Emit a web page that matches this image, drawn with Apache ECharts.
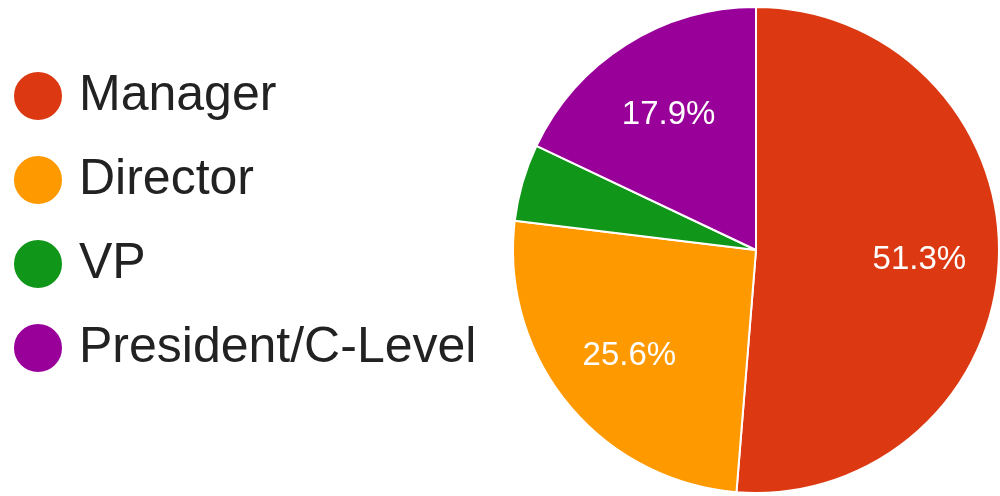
<!DOCTYPE html>
<html>
<head>
<meta charset="utf-8">
<style>
html,body{margin:0;padding:0;background:#fff;}
#c{width:1000px;height:496px;}
</style>
<script src="https://cdn.jsdelivr.net/npm/echarts@6/dist/echarts.min.js"></script>
</head>
<body>
<div id="c"></div>
<script>
const categories = ['Manager', 'Director', 'VP', 'President/C-Level'];
const counts = [20, 10, 2, 7];
const colors = ['#DC3912', '#FF9900', '#109618', '#990099'];
const showLabel = [true, true, false, true];

const chart = echarts.init(document.getElementById('c'), null, {renderer: 'canvas'});
const total = counts.reduce((a, b) => a + b, 0);
const mainData = categories.map((n, i) => ({name: n, value: counts[i], itemStyle: {color: colors[i]}}));
const labelData = categories.map((n, i) => ({
  name: n, value: counts[i],
  label: {show: showLabel[i]}
}));

chart.setOption({
  animation: false,
  backgroundColor: '#ffffff',
  legend: {
    orient: 'vertical',
    left: 7,
    top: 65,
    icon: 'circle',
    itemWidth: 50,
    itemHeight: 50,
    itemGap: 32,
    data: categories,
    selectedMode: false,
    textStyle: {
      fontFamily: 'Liberation Sans, Arial, sans-serif',
      fontSize: 50,
      lineHeight: 50,
      color: '#222222',
      padding: [0, 0, 0, 11]
    }
  },
  series: [
    {
      type: 'pie',
      center: [756, 250],
      radius: [0, 243],
      startAngle: 90,
      clockwise: true,
      silent: true,
      label: {show: false},
      labelLine: {show: false},
      itemStyle: {borderColor: '#ffffff', borderWidth: 2},
      data: mainData
    },
    {
      type: 'pie',
      center: [756, 253],
      radius: [78, 243],
      startAngle: 90,
      clockwise: true,
      silent: true,
      legendHoverLink: false,
      itemStyle: {color: 'rgba(0,0,0,0)', borderWidth: 0},
      label: {
        show: true,
        position: 'inside',
        formatter: p => (p.value / total * 100).toFixed(1) + '%',
        color: '#ffffff',
        fontFamily: 'Liberation Sans, Arial, sans-serif',
        fontSize: 33
      },
      labelLine: {show: false},
      data: labelData
    }
  ]
});
</script>
</body>
</html>
